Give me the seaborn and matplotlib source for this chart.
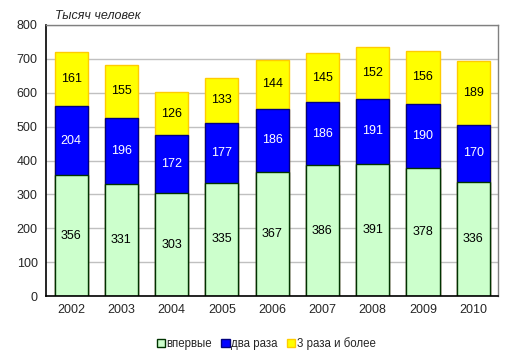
import matplotlib
matplotlib.use("Agg")
import matplotlib.pyplot as plt
from matplotlib.patches import Patch
import seaborn as sns
import pandas as pd
import numpy as np

years = ["2002", "2003", "2004", "2005", "2006", "2007", "2008", "2009", "2010"]
first = [356, 331, 303, 335, 367, 386, 391, 378, 336]
twice = [204, 196, 172, 177, 186, 186, 191, 190, 170]
three_plus = [161, 155, 126, 133, 144, 145, 152, 156, 189]

sns.set_style("white")
plt.rcParams['font.family'] = ['Liberation Sans', 'DejaVu Sans']

df = pd.DataFrame({"year": years, "first": first, "twice": twice, "three": three_plus})
df["c2"] = df["first"] + df["twice"]
df["c3"] = df["c2"] + df["three"]

fig = plt.figure(figsize=(5.14, 3.62), dpi=100)
ax = fig.add_axes([0.0895, 0.182, 0.88, 0.749])

w = 0.66
sns.barplot(data=df, x="year", y="c3", color="#FFFF00", edgecolor="#FFCC00",
            linewidth=1, width=w, saturation=1, ax=ax, zorder=2)
sns.barplot(data=df, x="year", y="c2", color="#0000FF", edgecolor="#000080",
            linewidth=1, width=w, saturation=1, ax=ax, zorder=2)
sns.barplot(data=df, x="year", y="first", color="#CCFFCC", edgecolor="#003300",
            linewidth=1, width=w, saturation=1, ax=ax, zorder=2)

for i in range(len(years)):
    ax.text(i, first[i] / 2, str(first[i]), ha="center", va="center", fontsize=9, color="black", zorder=3)
    ax.text(i, first[i] + twice[i] / 2, str(twice[i]), ha="center", va="center", fontsize=9, color="white", zorder=3)
    ax.text(i, df["c2"][i] + three_plus[i] / 2, str(three_plus[i]), ha="center", va="center", fontsize=9, color="black", zorder=3)

ax.set_ylim(0, 800)
ax.set_xlim(-0.5, len(years) - 0.5)
ax.set_yticks(np.arange(0, 801, 100))
ax.yaxis.grid(True, color="#C0C0C0", linewidth=1, zorder=0)
ax.set_axisbelow(True)
ax.set_xlabel("")
ax.set_ylabel("")
ax.tick_params(axis="both", labelsize=9, length=0, pad=6)
for s in ["left", "bottom"]:
    ax.spines[s].set_color("black")
    ax.spines[s].set_linewidth(1.2)
for s in ["top", "right"]:
    ax.spines[s].set_color("#808080")
    ax.spines[s].set_linewidth(1)

fig.text(0.107, 0.955, "Тысяч человек", fontsize=9, style="italic", ha="left", va="center")

handles = [Patch(facecolor="#CCFFCC", edgecolor="#003300", label="впервые"),
           Patch(facecolor="#0000FF", edgecolor="#000080", label="два раза"),
           Patch(facecolor="#FFFF00", edgecolor="#FFCC00", label="3 раза и более")]
fig.legend(handles=handles, loc="center", bbox_to_anchor=(0.518, 0.052), ncol=3,
           frameon=False, fontsize=8.3, handlelength=0.7, handleheight=0.7,
           handletextpad=0.15, columnspacing=0.8)

fig.savefig("out.png", dpi=100)
